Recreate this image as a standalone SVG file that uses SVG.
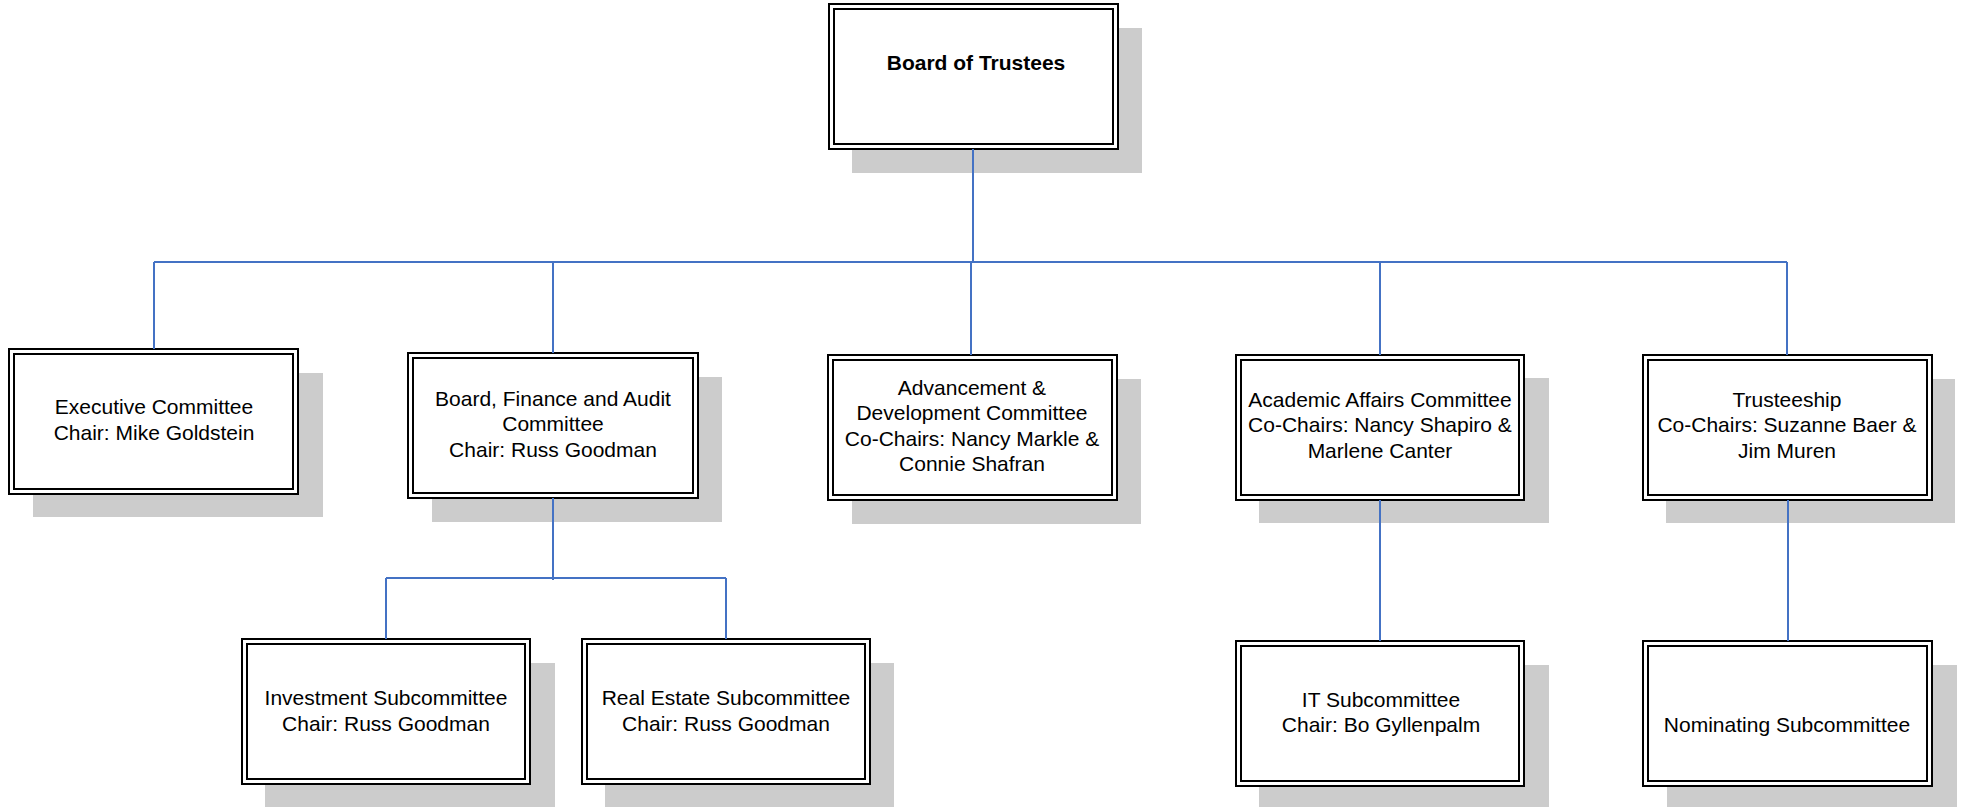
<svg xmlns="http://www.w3.org/2000/svg" width="1962" height="807" viewBox="0 0 1962 807">
<style>
.shadow{fill:#cccccc;stroke:none}
.outer{fill:#ffffff;stroke:#000000;stroke-width:2}
.inner{fill:none;stroke:#000000;stroke-width:2}
.t{font-family:"Liberation Sans",Arial,sans-serif;font-size:21px;fill:#000000;text-anchor:middle}
.b{font-weight:bold}
.conn{fill:none;stroke:#4472c4;stroke-width:2}
</style>
<rect width="1962" height="807" fill="#ffffff"/>
<g id="board">
<rect class="shadow" x="852" y="28" width="290" height="145"/>
<rect class="outer" x="829" y="4" width="289" height="145"/>
<rect class="inner" x="834" y="9" width="279" height="135"/>
<text class="t b" x="976" y="70">Board of Trustees</text>
</g>
<g id="executive">
<rect class="shadow" x="33" y="373" width="290" height="144"/>
<rect class="outer" x="9" y="349" width="289" height="145"/>
<rect class="inner" x="14" y="354" width="279" height="135"/>
<text class="t" x="154" y="414">Executive Committee</text>
<text class="t" x="154" y="440">Chair: Mike Goldstein</text>
</g>
<g id="finance">
<rect class="shadow" x="432" y="377" width="290" height="145"/>
<rect class="outer" x="408" y="353" width="290" height="145"/>
<rect class="inner" x="413" y="358" width="280" height="135"/>
<text class="t" x="553" y="406">Board, Finance and Audit</text>
<text class="t" x="553" y="431">Committee</text>
<text class="t" x="553" y="457">Chair: Russ Goodman</text>
</g>
<g id="advancement">
<rect class="shadow" x="852" y="379" width="289" height="145"/>
<rect class="outer" x="828" y="355" width="289" height="145"/>
<rect class="inner" x="833" y="360" width="279" height="135"/>
<text class="t" x="972" y="395">Advancement &amp;</text>
<text class="t" x="972" y="420">Development Committee</text>
<text class="t" x="972" y="446">Co-Chairs: Nancy Markle &amp;</text>
<text class="t" x="972" y="471">Connie Shafran</text>
</g>
<g id="academic">
<rect class="shadow" x="1259" y="378" width="290" height="145"/>
<rect class="outer" x="1236" y="355" width="288" height="145"/>
<rect class="inner" x="1241" y="360" width="278" height="135"/>
<text class="t" x="1380" y="407">Academic Affairs Committee</text>
<text class="t" x="1380" y="432">Co-Chairs: Nancy Shapiro &amp;</text>
<text class="t" x="1380" y="458">Marlene Canter</text>
</g>
<g id="trusteeship">
<rect class="shadow" x="1666" y="379" width="289" height="144"/>
<rect class="outer" x="1643" y="355" width="289" height="145"/>
<rect class="inner" x="1648" y="360" width="279" height="135"/>
<text class="t" x="1787" y="407">Trusteeship</text>
<text class="t" x="1787" y="432">Co-Chairs: Suzanne Baer &amp;</text>
<text class="t" x="1787" y="458">Jim Muren</text>
</g>
<g id="investment">
<rect class="shadow" x="265" y="663" width="290" height="150"/>
<rect class="outer" x="242" y="639" width="288" height="145"/>
<rect class="inner" x="247" y="644" width="278" height="135"/>
<text class="t" x="386" y="705">Investment Subcommittee</text>
<text class="t" x="386" y="731">Chair: Russ Goodman</text>
</g>
<g id="realestate">
<rect class="shadow" x="605" y="663" width="289" height="150"/>
<rect class="outer" x="582" y="639" width="288" height="145"/>
<rect class="inner" x="587" y="644" width="278" height="135"/>
<text class="t" x="726" y="705">Real Estate Subcommittee</text>
<text class="t" x="726" y="731">Chair: Russ Goodman</text>
</g>
<g id="it">
<rect class="shadow" x="1259" y="665" width="290" height="150"/>
<rect class="outer" x="1236" y="641" width="288" height="145"/>
<rect class="inner" x="1241" y="646" width="278" height="135"/>
<text class="t" x="1381" y="707">IT Subcommittee</text>
<text class="t" x="1381" y="732">Chair: Bo Gyllenpalm</text>
</g>
<g id="nominating">
<rect class="shadow" x="1667" y="665" width="290" height="150"/>
<rect class="outer" x="1643" y="641" width="289" height="145"/>
<rect class="inner" x="1648" y="646" width="279" height="135"/>
<text class="t" x="1787" y="732">Nominating Subcommittee</text>
</g>
<g id="connectors">
<path class="conn" d="M973,149 V262"/>
<path class="conn" d="M154,262 H1787"/>
<path class="conn" d="M154,262 V349"/>
<path class="conn" d="M553,262 V353"/>
<path class="conn" d="M971,262 V355"/>
<path class="conn" d="M1380,262 V355"/>
<path class="conn" d="M1787,262 V355"/>
<path class="conn" d="M553,498 V580"/>
<path class="conn" d="M386,578 H726"/>
<path class="conn" d="M386,578 V639"/>
<path class="conn" d="M726,578 V639"/>
<path class="conn" d="M1380,500 V641"/>
<path class="conn" d="M1788,500 V641"/>
</g>
</svg>
